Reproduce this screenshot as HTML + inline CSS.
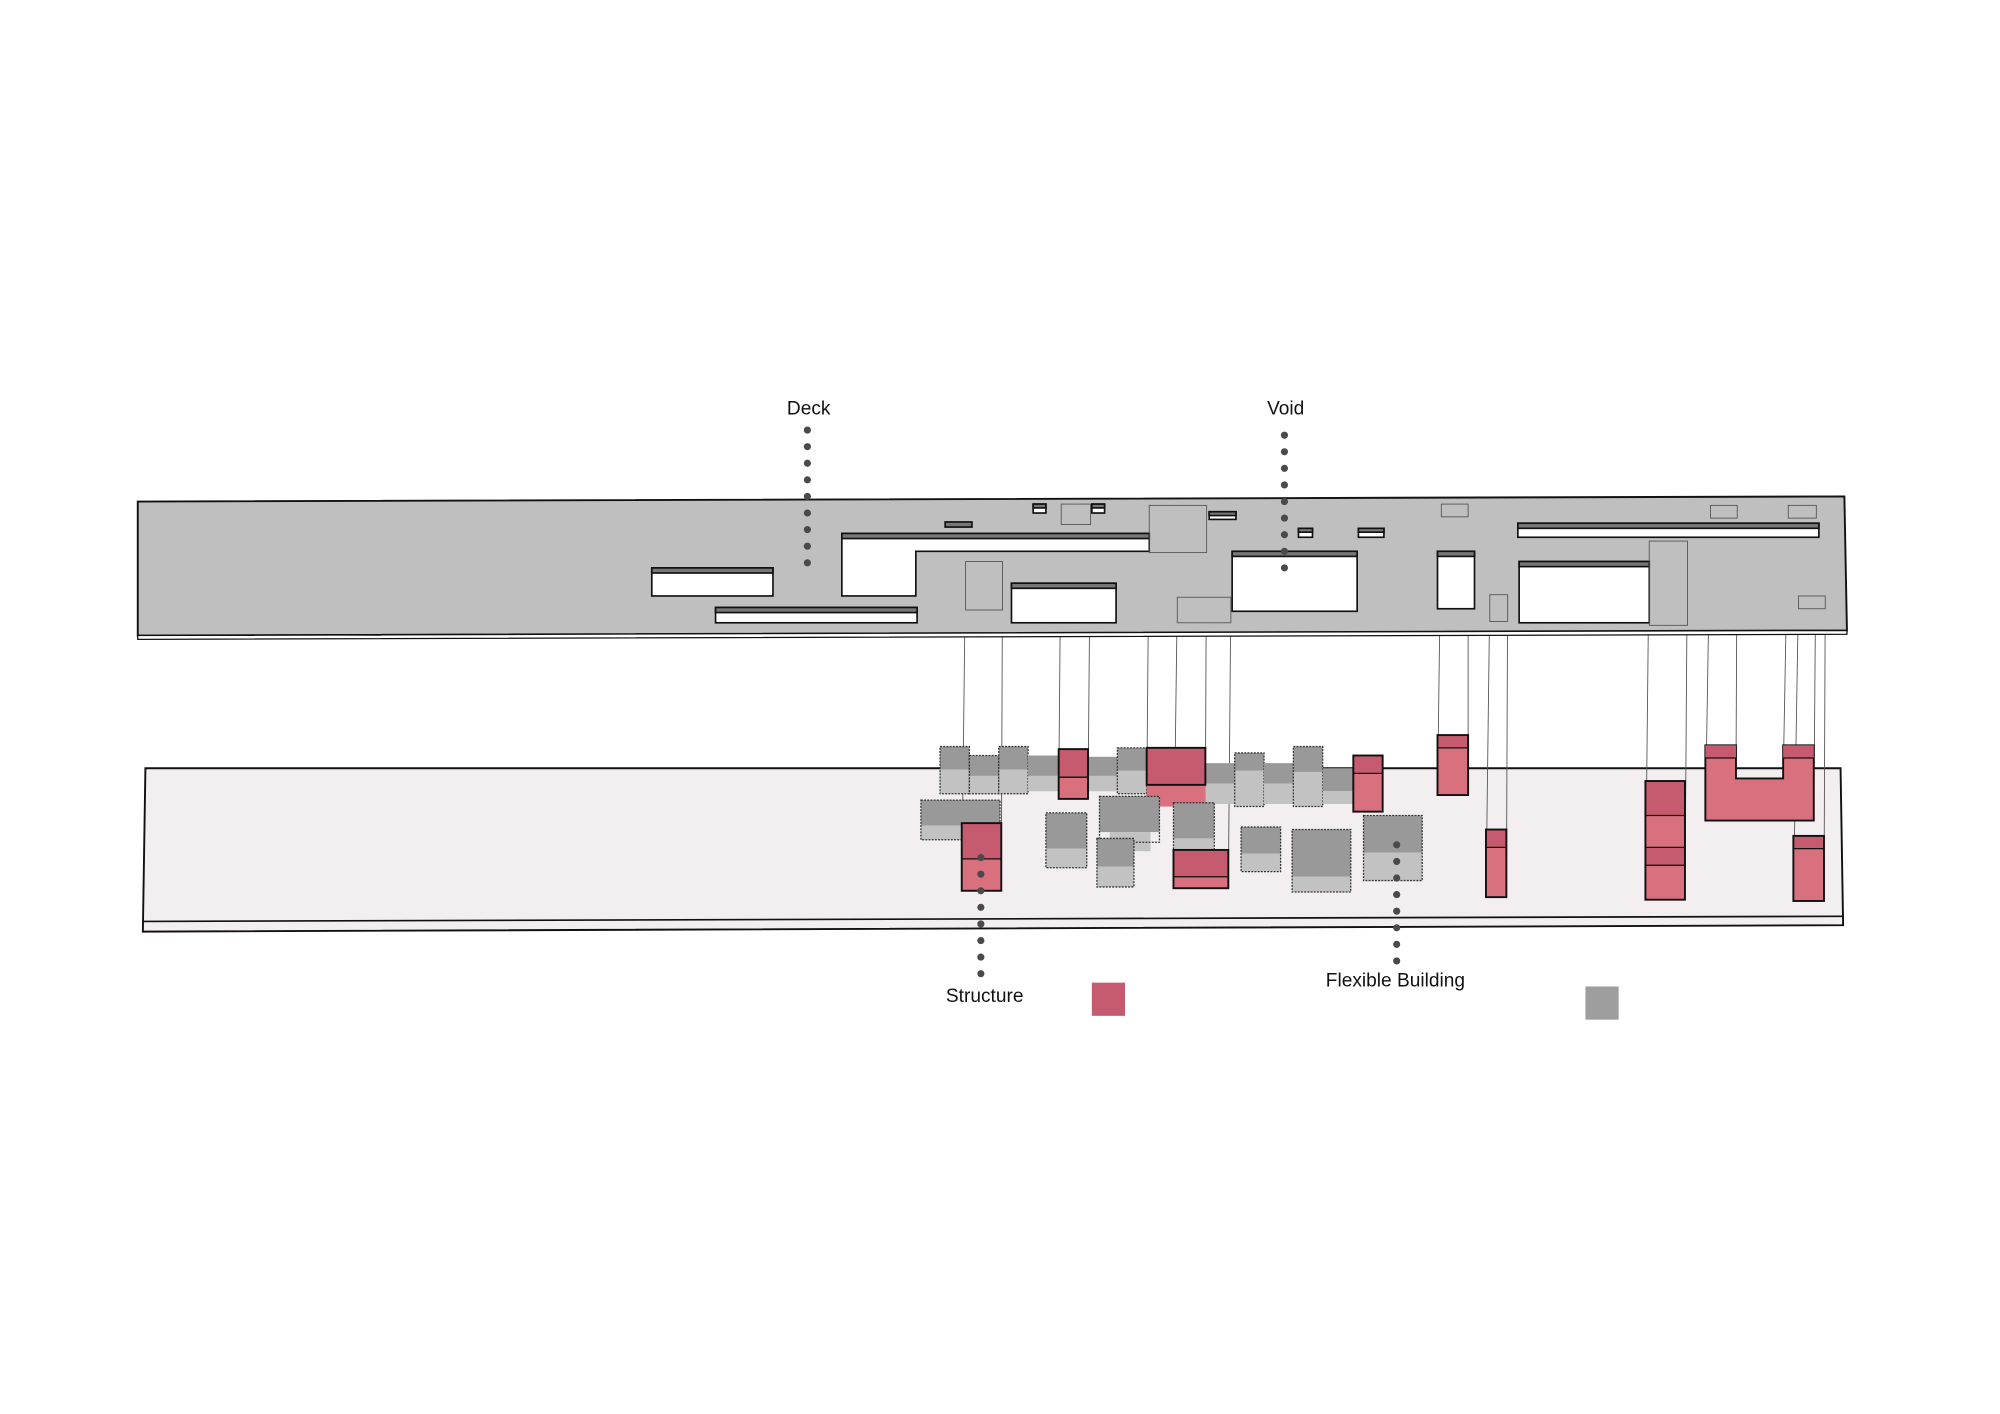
<!DOCTYPE html>
<html><head><meta charset="utf-8"><style>
html,body{margin:0;padding:0;background:#fff;}
svg{display:block;}
text{font-family:"Liberation Sans",sans-serif;font-size:15px;fill:#111;}
.g1{fill:#999;}.g2{fill:#c2c2c2;}.r1{fill:#c65a6e;}.r2{fill:#d8707e;}
.ob{fill:none;stroke:#111;stroke-width:1.5;}
.og{fill:none;stroke:#333;stroke-width:1;stroke-dasharray:1.5 1;}
.pl{stroke:#555;stroke-width:0.7;fill:none;}
.dot{fill:#4a4a4a;}
</style></head><body>
<svg width="2000" height="1414" viewBox="0 0 1568 1108" preserveAspectRatio="none" xmlns="http://www.w3.org/2000/svg">
<polygon points="114,602 1443,602 1445,725 112,730" fill="#f3eff0" stroke="#111" stroke-width="1.5"/>
<line x1="112" y1="722" x2="1445" y2="718" stroke="#111" stroke-width="1.3"/>

<g class="pl">
<path d="M757,440 L754,698 M786,440 L785,698 M832,395 L830,626 M855,395 L853,626 M901,396 L899,632 M946,396 L945,632 M923,468 L920,696 M965,468 L963,696 M1130,395 L1127,623 M1151,395 L1151,623 M1168,466 L1165,703 M1182,466 L1181,703 M1293,424 L1290,705 M1323,424 L1321,705 M1341,396 L1337,643 M1362,396 L1361,610 M1402,396 L1398,610 M1424,396 L1422,643 M1410,467 L1406,706 M1431,467 L1430,706"/>
</g>

<rect x="737" y="585" width="23" height="18" class="g1"/><rect x="737" y="603" width="23" height="19" class="g2"/><rect x="737" y="585" width="23" height="37" class="og"/>
<rect x="760" y="592" width="23" height="16" class="g1"/><rect x="760" y="608" width="23" height="14" class="g2"/><rect x="760" y="592" width="23" height="30" class="og"/>
<rect x="783" y="585" width="23" height="18" class="g1"/><rect x="783" y="603" width="23" height="19" class="g2"/><rect x="783" y="585" width="23" height="37" class="og"/>
<rect x="806" y="592" width="24" height="16" class="g1"/><rect x="806" y="608" width="24" height="12" class="g2"/>
<rect x="853" y="593" width="23" height="15" class="g1"/><rect x="853" y="608" width="23" height="12" class="g2"/>
<rect x="876" y="586" width="23" height="18" class="g1"/><rect x="876" y="604" width="23" height="18" class="g2"/><rect x="876" y="586" width="23" height="36" class="og"/>
<rect x="945" y="598" width="23" height="16" class="g1"/><rect x="945" y="614" width="23" height="16" class="g2"/>
<rect x="968" y="590" width="23" height="14" class="g1"/><rect x="968" y="604" width="23" height="28" class="g2"/><rect x="968" y="590" width="23" height="42" class="og"/>
<rect x="991" y="598" width="23" height="16" class="g1"/><rect x="991" y="614" width="23" height="16" class="g2"/>
<rect x="1014" y="585" width="23" height="20" class="g1"/><rect x="1014" y="605" width="23" height="27" class="g2"/><rect x="1014" y="585" width="23" height="47" class="og"/>
<rect x="1037" y="602" width="24" height="18" class="g1"/><rect x="1037" y="620" width="24" height="10" class="g2"/>
<rect x="830" y="587" width="23" height="22" class="r1"/><rect x="830" y="609" width="23" height="17" class="r2"/><rect x="830" y="587" width="23" height="39" class="ob"/><line x1="830" y1="609" x2="853" y2="609" stroke="#111"/>
<rect x="899" y="586" width="46" height="29" class="r1"/><rect x="899" y="615" width="46" height="17" class="r2"/><rect x="899" y="586" width="46" height="29" class="ob"/>
<rect x="1061" y="592" width="23" height="14" class="r1"/><rect x="1061" y="606" width="23" height="30" class="r2"/><rect x="1061" y="592" width="23" height="44" class="ob"/><line x1="1061" y1="606" x2="1084" y2="606" stroke="#111"/>
<rect x="1127" y="576" width="24" height="10" class="r1"/><rect x="1127" y="586" width="24" height="37" class="r2"/><rect x="1127" y="576" width="24" height="47" class="ob"/><line x1="1127" y1="586" x2="1151" y2="586" stroke="#111"/>

<rect x="722" y="627" width="62" height="20" class="g1"/><rect x="722" y="647" width="32" height="11" class="g2"/><rect x="722" y="627" width="62" height="31" class="og"/>
<rect x="754" y="645" width="31" height="28" class="r1"/><rect x="754" y="673" width="31" height="25" class="r2"/><rect x="754" y="645" width="31" height="53" class="ob"/><line x1="754" y1="673" x2="785" y2="673" stroke="#111"/>
<rect x="820" y="637" width="32" height="28" class="g1"/><rect x="820" y="665" width="32" height="15" class="g2"/><rect x="820" y="637" width="32" height="43" class="og"/>
<rect x="862" y="624" width="47" height="28" class="g1"/><rect x="870" y="652" width="32" height="15" class="g2"/><rect x="862" y="624" width="47" height="36" class="og"/>
<rect x="860" y="657" width="29" height="22" class="g1"/><rect x="860" y="679" width="29" height="16" class="g2"/><rect x="860" y="657" width="29" height="38" class="og"/>
<rect x="920" y="629" width="32" height="28" class="g1"/><rect x="920" y="657" width="32" height="12" class="g2"/><rect x="920" y="629" width="32" height="40" class="og"/>
<rect x="920" y="666" width="43" height="21" class="r1"/><rect x="920" y="687" width="43" height="9" class="r2"/><rect x="920" y="666" width="43" height="30" class="ob"/><line x1="920" y1="687" x2="963" y2="687" stroke="#111"/>
<rect x="973" y="648" width="31" height="21" class="g1"/><rect x="973" y="669" width="31" height="14" class="g2"/><rect x="973" y="648" width="31" height="35" class="og"/>
<rect x="1013" y="650" width="46" height="37" class="g1"/><rect x="1013" y="687" width="46" height="12" class="g2"/><rect x="1013" y="650" width="46" height="49" class="og"/>
<rect x="1069" y="639" width="46" height="29" class="g1"/><rect x="1069" y="668" width="46" height="22" class="g2"/><rect x="1069" y="639" width="46" height="51" class="og"/>

<rect x="1165" y="650" width="16" height="14" class="r1"/><rect x="1165" y="664" width="16" height="39" class="r2"/><rect x="1165" y="650" width="16" height="53" class="ob"/><line x1="1165" y1="664" x2="1181" y2="664" stroke="#111"/>
<rect x="1290" y="612" width="31" height="27" class="r1"/><rect x="1290" y="639" width="31" height="25" class="r2"/><rect x="1290" y="664" width="31" height="14" class="r1"/><rect x="1290" y="678" width="31" height="27" class="r2"/><rect x="1290" y="612" width="31" height="93" class="ob"/><path d="M1290,639 H1321 M1290,664 H1321 M1290,678 H1321" stroke="#111"/>
<polygon points="1337,584 1361,584 1361,610 1398,610 1398,584 1422,584 1422,643 1337,643" class="r2" stroke="#111" stroke-width="1.5"/>
<rect x="1337" y="584" width="24" height="10" class="r1"/><rect x="1398" y="584" width="24" height="10" class="r1"/><path d="M1337,594 H1361 M1398,594 H1422" stroke="#111"/>
<rect x="1406" y="655" width="24" height="10" class="r1"/><rect x="1406" y="665" width="24" height="41" class="r2"/><rect x="1406" y="655" width="24" height="51" class="ob"/><line x1="1406" y1="665" x2="1430" y2="665" stroke="#111"/>

<polygon points="108,393 1446,389 1448,494 108,498" fill="#c0bfc0" stroke="#111" stroke-width="1.5"/>
<polygon points="108,498 1448,494 1448,497 108,501" fill="#fff" stroke="#111" stroke-width="1"/>
<g stroke="#111" stroke-width="1.3">
<rect x="511" y="445" width="95" height="22" fill="#fff"/><rect x="511" y="445" width="95" height="4" fill="#777"/>
<rect x="561" y="476" width="158" height="12" fill="#fff"/><rect x="561" y="476" width="158" height="4" fill="#777"/>
<polygon points="660,418 901,418 901,432 718,432 718,467 660,467" fill="#fff"/><rect x="660" y="418" width="241" height="4" fill="#777"/>
<rect x="793" y="457" width="82" height="31" fill="#fff"/><rect x="793" y="457" width="82" height="4" fill="#777"/>
<rect x="966" y="432" width="98" height="47" fill="#fff"/><rect x="966" y="432" width="98" height="4" fill="#777"/>
<rect x="1127" y="432" width="29" height="45" fill="#fff"/><rect x="1127" y="432" width="29" height="4" fill="#777"/>
<rect x="1190" y="410" width="236" height="11" fill="#fff"/><rect x="1190" y="410" width="236" height="4" fill="#777"/>
<rect x="1191" y="440" width="102" height="48" fill="#fff"/><rect x="1191" y="440" width="102" height="4" fill="#777"/>
<rect x="741" y="409" width="21" height="4" fill="#777"/>
<rect x="810" y="395" width="10" height="7" fill="#fff"/><rect x="810" y="395" width="10" height="3" fill="#777"/>
<rect x="856" y="395" width="10" height="7" fill="#fff"/><rect x="856" y="395" width="10" height="3" fill="#777"/>
<rect x="948" y="401" width="21" height="6" fill="#fff"/><rect x="948" y="401" width="21" height="3" fill="#777"/>
<rect x="1018" y="414" width="11" height="7" fill="#fff"/><rect x="1018" y="414" width="11" height="3" fill="#777"/>
<rect x="1065" y="414" width="20" height="7" fill="#fff"/><rect x="1065" y="414" width="20" height="3" fill="#777"/>
</g>
<g class="pl">
<rect x="757" y="440" width="29" height="38"/><rect x="832" y="395" width="23" height="16"/><rect x="901" y="396" width="45" height="37"/><rect x="923" y="468" width="42" height="20"/><rect x="1130" y="395" width="21" height="10"/><rect x="1168" y="466" width="14" height="21"/><rect x="1293" y="424" width="30" height="66"/><rect x="1341" y="396" width="21" height="10"/><rect x="1402" y="396" width="22" height="10"/><rect x="1410" y="467" width="21" height="10"/>
</g>

<g class="dot">
<circle cx="633" cy="337" r="2.8"/><circle cx="633" cy="350" r="2.8"/><circle cx="633" cy="363" r="2.8"/><circle cx="633" cy="376" r="2.8"/><circle cx="633" cy="389" r="2.8"/><circle cx="633" cy="402" r="2.8"/><circle cx="633" cy="415" r="2.8"/><circle cx="633" cy="428" r="2.8"/><circle cx="633" cy="441" r="2.8"/>
<circle cx="1007" cy="341" r="2.8"/><circle cx="1007" cy="354" r="2.8"/><circle cx="1007" cy="367" r="2.8"/><circle cx="1007" cy="380" r="2.8"/><circle cx="1007" cy="393" r="2.8"/><circle cx="1007" cy="406" r="2.8"/><circle cx="1007" cy="419" r="2.8"/><circle cx="1007" cy="432" r="2.8"/><circle cx="1007" cy="445" r="2.8"/>
<circle cx="769" cy="672" r="2.8"/><circle cx="769" cy="685" r="2.8"/><circle cx="769" cy="698" r="2.8"/><circle cx="769" cy="711" r="2.8"/><circle cx="769" cy="724" r="2.8"/><circle cx="769" cy="737" r="2.8"/><circle cx="769" cy="750" r="2.8"/><circle cx="769" cy="763" r="2.8"/>
<circle cx="1095" cy="662" r="2.8"/><circle cx="1095" cy="675" r="2.8"/><circle cx="1095" cy="688" r="2.8"/><circle cx="1095" cy="701" r="2.8"/><circle cx="1095" cy="714" r="2.8"/><circle cx="1095" cy="727" r="2.8"/><circle cx="1095" cy="740" r="2.8"/><circle cx="1095" cy="753" r="2.8"/>
</g>
<text x="634" y="325" text-anchor="middle">Deck</text>
<text x="1008" y="325" text-anchor="middle">Void</text>
<text x="772" y="785" text-anchor="middle">Structure</text>
<text x="1094" y="773" text-anchor="middle">Flexible Building</text>
<rect x="856" y="770" width="26" height="26" fill="#c65a6e"/>
<rect x="1243" y="773" width="26" height="26" fill="#9e9e9e"/>
</svg>
</body></html>
